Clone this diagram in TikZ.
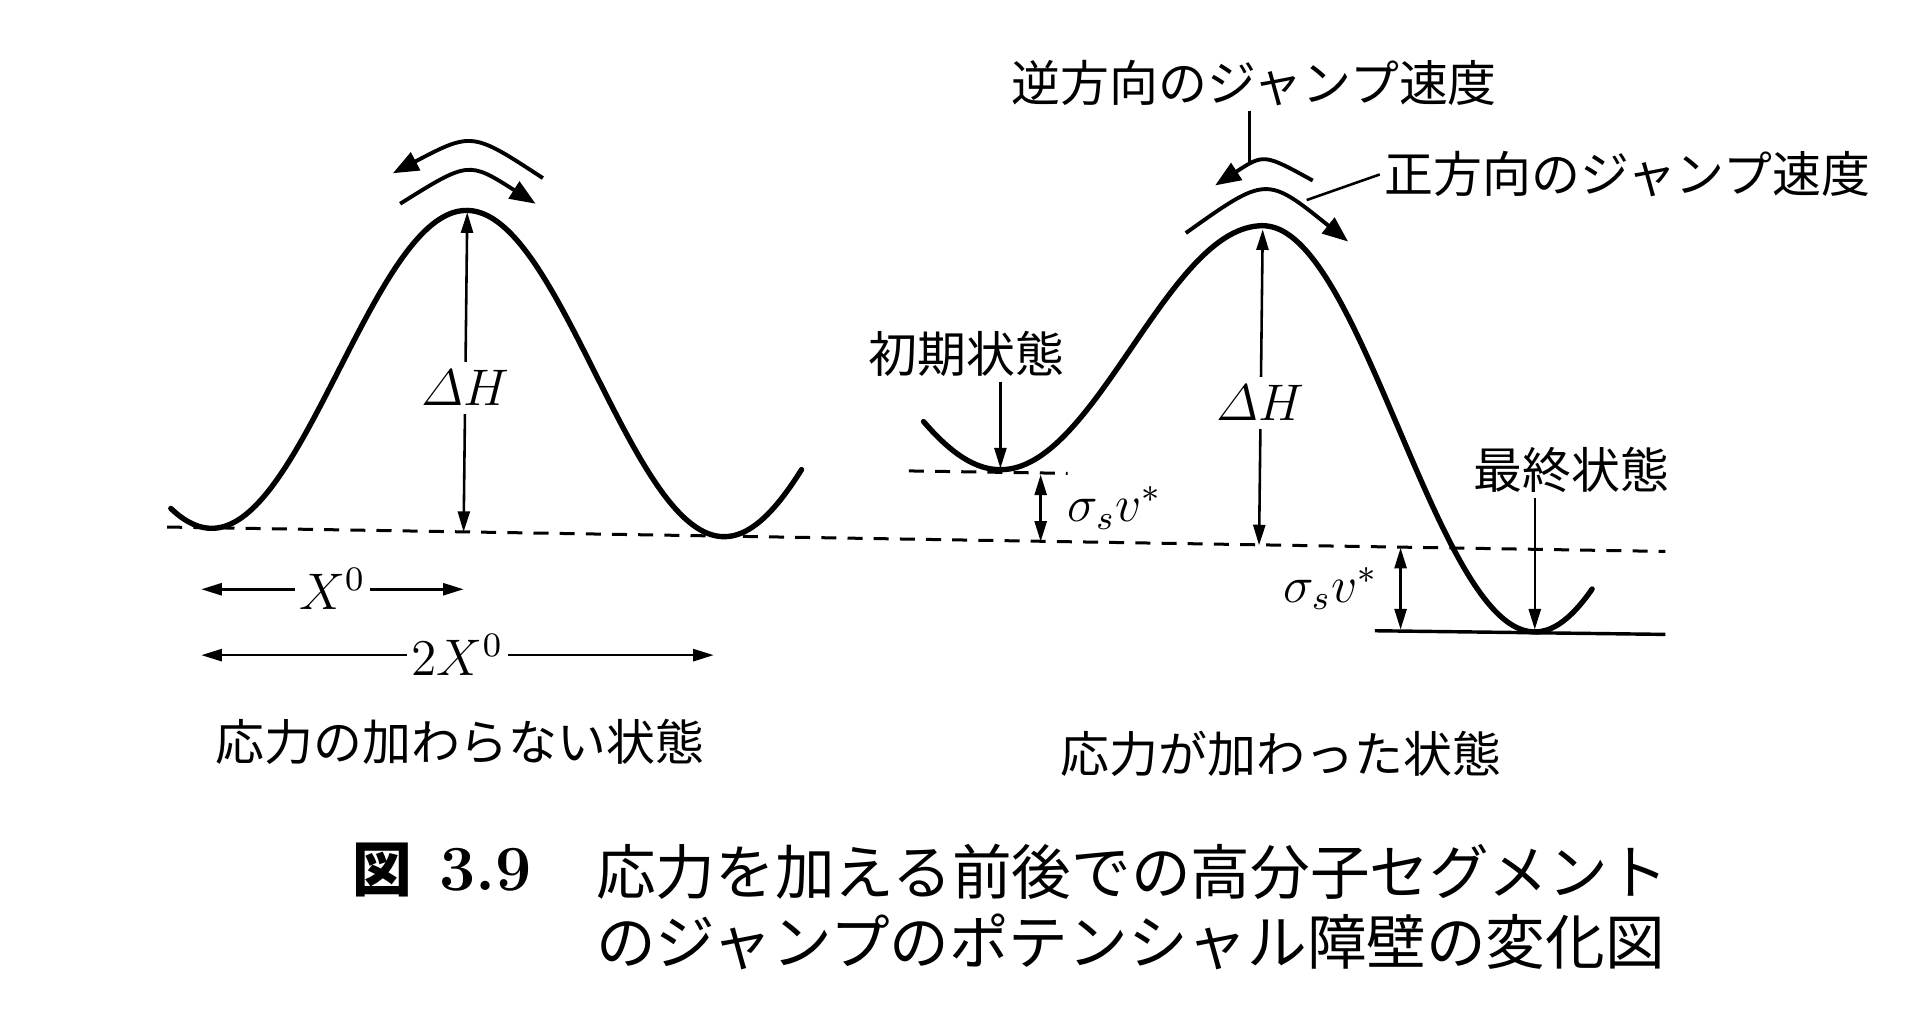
\documentclass[tikz,border=0pt]{standalone}
\usepackage{fontspec}
\usepackage{amsmath}
\usetikzlibrary{positioning,arrows.meta,calc}
\newfontfamily\jafont{Noto Sans CJK JP}
\newcommand{\jalabel}{\jafont\fontsize{11.4pt}{13pt}\selectfont}
\newcommand{\jacap}{\jafont\fontsize{13.9pt}{16pt}\selectfont}
\tikzset{
  barrier/.style={line width=1.25pt, line cap=round},
  level/.style={line width=0.7pt, dash pattern=on 3.5pt off 2.6pt},
  dimline/.style={{Triangle[length=4.8pt,width=2.8pt]}-{Triangle[length=4.8pt,width=2.8pt]},
                  line width=0.6pt},
  pointer/.style={-{Triangle[length=4.8pt,width=2.8pt]}, line width=0.6pt},
  jumparc/.style={-{Triangle[length=6pt,width=4.6pt]}, line width=0.9pt},
  jlbl/.style={font=\jalabel, inner sep=1pt},
}

\begin{document}
\begin{tikzpicture}[x=0.01cm, y=-0.01cm,
      mlbl/.style={font=\fontsize{12pt}{14pt}\selectfont, inner sep=1pt},
      dlbl/.style={font=\fontsize{13pt}{15pt}\selectfont, inner sep=2pt, fill=white}]
    \useasboundingbox (0,0) rectangle (1568,843);
    % barriers
    \draw[barrier] plot[domain=140:657, samples=120, smooth]
      (\x, {433 + 0.0163*(\x-170) - 132*(1+cos(0.857143*(\x-383)))});
    \draw[barrier] plot[domain=757:1035, samples=80, smooth]
      (\x, {385 - 100*(1-cos(0.83721*(\x-820)))})
      -- plot[domain=1035:1305, samples=80, smooth]
      (\x, {518 - 166.5*(1+cos(0.80717*(\x-1035)))});
    % levels
    \coordinate (blL) at (137,432);
    \coordinate (blR) at (1365,452);
    \draw[level] (blL) -- (blR);
    \draw[level] (745,386) -- (875,388);
    \draw[line width=0.8pt] (1127,517) -- (1365,520);
    % jumps
    \draw[jumparc] (445,146) .. controls (387,108) .. (322,142);
    \draw[jumparc] (328,167) .. controls (384,132) .. (439,167);
    \draw[jumparc] (1076,148) .. controls (1036,126) .. (996,152);
    \draw[jumparc] (972,191) .. controls (1038,144) .. (1105,198);
    \node[jlbl] (rev) at (1028,68) {逆方向のジャンプ速度};
    \node[jlbl] (fwd) at (1334,143) {正方向のジャンプ速度};
    \coordinate (revtip) at (1024,135);
    \coordinate (fwdtip) at (1071,164);
    \draw[line width=0.6pt] (rev.south -| revtip) -- (revtip);
    \draw[line width=0.6pt] (fwd.west) -- (fwdtip);
    % barrier heights
    \coordinate (peakL) at (383,174);
    \coordinate (footL) at (380,436);
    \draw[dimline] (peakL) -- node[dlbl, pos=0.55]{$\varDelta H$} (footL);
    \coordinate (peakR) at (1035,188);
    \coordinate (footR) at (1032,447);
    \draw[dimline] (peakR) -- node[dlbl, pos=0.55]{$\varDelta H$} (footR);
    % states
    \node[jlbl] (init) at (792,290) {初期状態};
    \coordinate (minA) at (820,384);
    \draw[pointer] (init.south -| minA) -- (minA);
    \node[jlbl] (final) at (1288,385) {最終状態};
    \coordinate (minB) at (1258,516);
    \draw[pointer] (final.south -| minB) -- (minB);
    \coordinate (s1a) at (853,389);
    \coordinate (s1b) at (853,444);
    \draw[dimline] (s1a) -- node[mlbl, right=5pt]{$\sigma_s v^*$} (s1b);
    \coordinate (s2a) at (1148,449);
    \coordinate (s2b) at (1148,516);
    \draw[dimline] (s2a) -- node[mlbl, left=4pt]{$\sigma_s v^*$} (s2b);
    % spacing
    \coordinate (xa) at (165,483);
    \coordinate (xb) at (380,483);
    \draw[dimline] (xa) -- node[mlbl, fill=white]{$X^0$} (xb);
    \coordinate (xc) at (165,537);
    \coordinate (xd) at (585,537);
    \draw[dimline] (xc) -- node[mlbl, fill=white]{$2X^0$} (xd);
    % captions
    \node[jlbl] (capL) at (377,608) {応力の加わらない状態};
    \node[jlbl] (capR) at (1050,618) {応力が加わった状態};
    \node[font=\jacap\bfseries, inner sep=0pt] (fig) at (313,713) {図};
    \node[font=\fontsize{15pt}{17pt}\selectfont\bfseries, inner sep=0pt] (fignum) at (398,713) {3.9};
    \node[font=\jacap, anchor=west, inner sep=0pt] (cap1) at (488,715) {応力を加える前後での高分子セグメント};
    \node[font=\jacap, anchor=west, inner sep=0pt] (cap2) at (488,772) {のジャンプのポテンシャル障壁の変化図};
\end{tikzpicture}
\end{document}
